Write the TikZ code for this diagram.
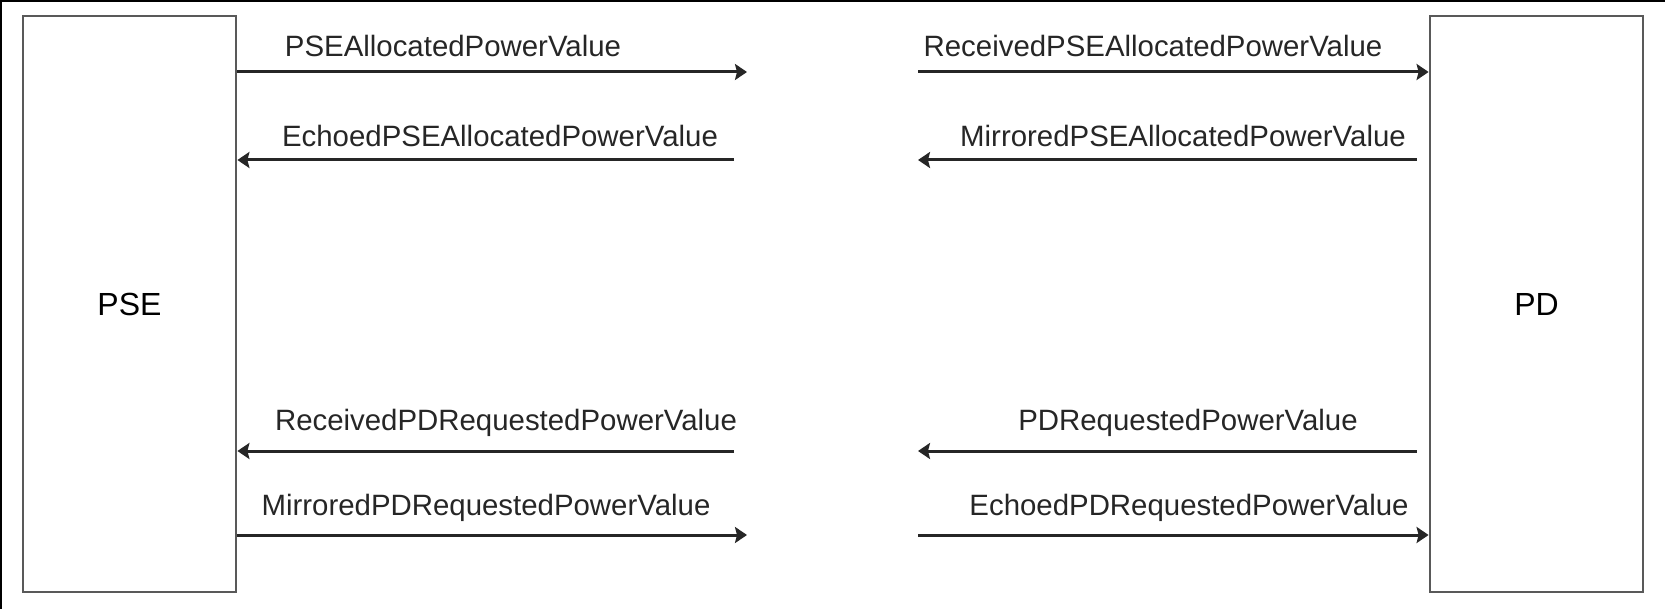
\documentclass[tikz,border=0pt]{standalone}
\usepackage{fontspec}
\setmainfont{Liberation Sans}
\usetikzlibrary{arrows.meta}
\tikzset{
  unit/.style={draw=black!65, line width=1.4pt, minimum width=106.5pt, minimum height=288pt, font=\fontsize{16}{18}\selectfont},
  msg/.style={draw=black!85, line width=1.5pt, -{Stealth[length=6pt,width=8pt,inset=1pt]}},
  lbl/.style={font=\fontsize{14.7}{16}\selectfont, inner sep=0pt, text=black!85}
}
\begin{document}
\begin{tikzpicture}[x=0.5pt,y=-0.5pt]
\useasboundingbox (0,0) rectangle (1665,609);
% frame edges of the capture
\fill[black] (0,0) rectangle (1665,2);
\fill[black] (0,0) rectangle (2,609);
% the two ends
\node[unit] (pse) at (129.5,304) {PSE};
\node[unit] (pd) at (1536.5,304) {PD};
% free ends in the middle gap
\coordinate (a1) at (747,72);
\coordinate (b1) at (918,72);
\coordinate (a2) at (734,160);
\coordinate (b2) at (918,160);
\coordinate (a3) at (734,451);
\coordinate (b3) at (918,451);
\coordinate (a4) at (747,535);
\coordinate (b4) at (918,535);
% messages
\draw[msg] (pse.east |- a1) -- (a1);
\draw[msg] (b1) -- (pd.west |- b1);
\draw[msg] (a2) -- (pse.east |- a2);
\draw[msg] (pd.west |- b2) ++(-12,0) -- (b2);
\draw[msg] (a3) -- (pse.east |- a3);
\draw[msg] (pd.west |- b3) ++(-12,0) -- (b3);
\draw[msg] (pse.east |- a4) -- (a4);
\draw[msg] (b4) -- (pd.west |- b4);
% labels
\node[lbl] (l1) at (453,46) {PSEAllocatedPowerValue};
\node[lbl] (r1) at (1153,46) {ReceivedPSEAllocatedPowerValue};
\node[lbl] (l2) at (500,136) {EchoedPSEAllocatedPowerValue};
\node[lbl] (r2) at (1183,136) {MirroredPSEAllocatedPowerValue};
\node[lbl] (l3) at (506,423) {ReceivedPDRequestedPowerValue};
\node[lbl] (r3) at (1188,423) {PDRequestedPowerValue};
\node[lbl] (l4) at (486,508) {MirroredPDRequestedPowerValue};
\node[lbl] (r4) at (1189,508) {EchoedPDRequestedPowerValue};
\end{tikzpicture}
\end{document}
